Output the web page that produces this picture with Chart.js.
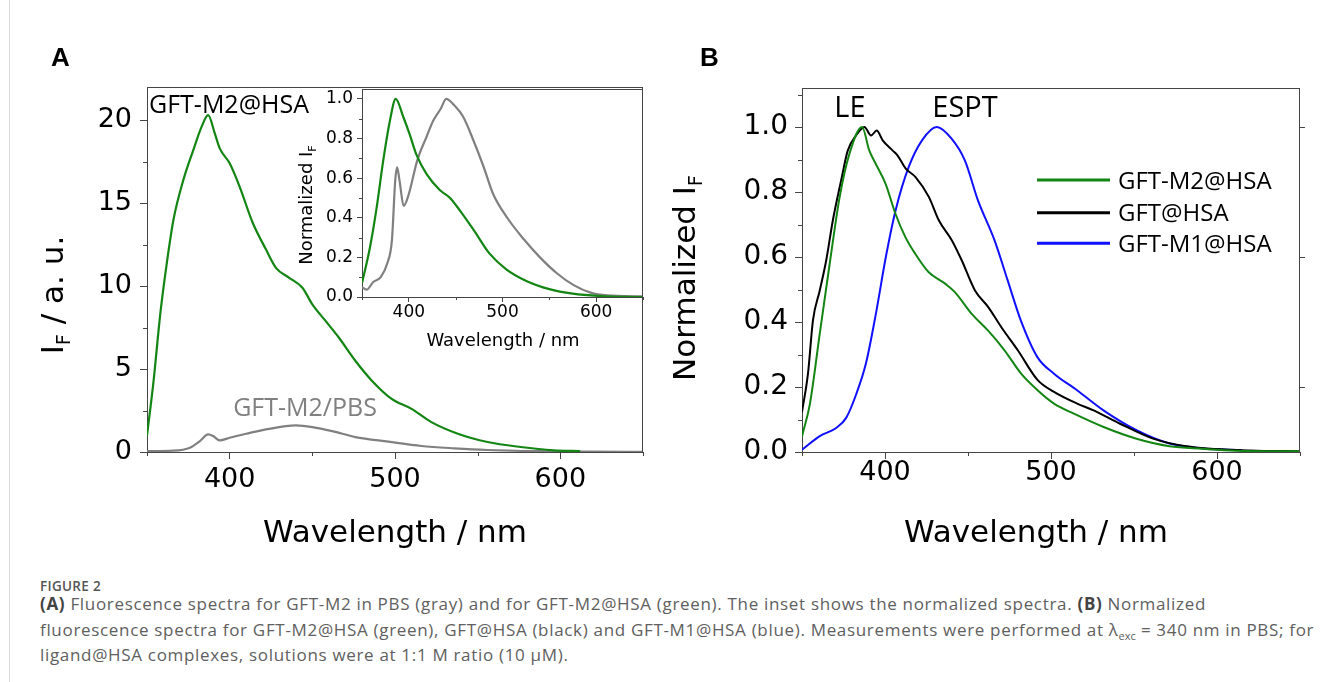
<!DOCTYPE html>
<html>
<head>
<meta charset="utf-8">
<script src="https://cdn.jsdelivr.net/npm/chart.js@4.4.0/dist/chart.umd.min.js"></script>
<style>
  body { margin: 0; background: #fff; width: 1322px; height: 682px; overflow: hidden; position: relative; }
  .edge { position: absolute; left: 9px; top: 0; width: 1px; height: 682px; background: #d9d9d9; }
  canvas { position: absolute; }
  .panel { position: absolute; top: 42px; font: bold 26px "Liberation Sans", Arial, sans-serif; line-height: 30px; color: #000; }
  .fig { position: absolute; left: 40px; top: 576px; font: 600 13.5px "Open Sans", sans-serif; color: #555; line-height: 20px; letter-spacing: 0.3px; }
  .caption { position: absolute; left: 40px; top: 591px; font: 17px "Open Sans", sans-serif; color: #606060; line-height: 25.5px; letter-spacing: 0.68px; white-space: nowrap; }
  .caption b { color: #444; }
  .caption sub { font-size: 11px; line-height: 0; letter-spacing: 0; }
</style>
</head>
<body>
<div class="edge"></div>
<canvas id="chartA" width="660" height="560" style="left:0;top:0"></canvas>
<canvas id="inset" width="380" height="320" style="left:280px;top:60px"></canvas>
<canvas id="chartB" width="662" height="560" style="left:660px;top:0"></canvas>
<div class="panel" style="left:51px">A</div>
<div class="panel" style="left:700px">B</div>
<div class="fig">FIGURE 2</div>
<div class="caption">
<b>(A)</b> Fluorescence spectra for GFT-M2 in PBS (gray) and for GFT-M2@HSA (green). The inset shows the normalized spectra. <b>(B)</b> Normalized<br>
fluorescence spectra for GFT-M2@HSA (green), GFT@HSA (black) and GFT-M1@HSA (blue). Measurements were performed at λ<sub>exc</sub> = 340 nm in PBS; for<br>
ligand@HSA complexes, solutions were at 1:1 M ratio (10 μM).
</div>
<script>
// Panel A - raw intensity
const wlA_hsa = [350, 354, 358, 362, 366, 372, 378, 383, 387, 391, 394, 400, 406, 414, 422, 428, 436, 444, 450, 458, 466, 476, 486, 498, 510, 522, 538, 556, 576, 596, 612];
const ifA_hsa = [1.0, 4.3, 8.3, 11.4, 14.0, 16.4, 18.2, 19.6, 20.3, 19.2, 18.3, 17.4, 16.0, 13.8, 12.2, 11.1, 10.5, 9.9, 8.9, 7.9, 6.9, 5.5, 4.3, 3.2, 2.6, 1.8, 1.1, 0.6, 0.3, 0.1, 0.05];
const wlA_pbs = [350, 366, 376, 382, 387, 390, 394, 400, 410, 422, 434, 440, 450, 462, 476, 496, 516, 536, 556, 586, 620, 650];
const ifA_pbs = [0.05, 0.08, 0.26, 0.66, 1.06, 0.96, 0.7, 0.86, 1.1, 1.36, 1.56, 1.6, 1.5, 1.26, 0.9, 0.62, 0.36, 0.22, 0.12, 0.05, 0.02, 0.01];

// Inset - normalized
const wlIn_hsa = [350, 358.5, 365.6, 372.7, 379.8, 386, 394, 401, 408, 419, 433, 444, 454, 469, 486, 504, 526, 550, 575, 604, 650];
const nIn_hsa = [0.07, 0.25, 0.45, 0.69, 0.89, 1.0, 0.91, 0.82, 0.72, 0.62, 0.54, 0.5, 0.44, 0.34, 0.22, 0.14, 0.08, 0.04, 0.017, 0.005, 0.0];
const wlIn_pbs = [350, 355, 362, 370, 377, 382, 385.5, 387.5, 390, 394.5, 400, 409, 419, 426, 434, 440, 448, 458, 469, 480, 490, 505, 523, 540, 558, 576, 594, 612, 650];
const nIn_pbs = [0.05, 0.037, 0.076, 0.1, 0.17, 0.29, 0.59, 0.655, 0.59, 0.46, 0.52, 0.69, 0.81, 0.89, 0.95, 1.0, 0.97, 0.91, 0.79, 0.655, 0.52, 0.4, 0.29, 0.2, 0.12, 0.06, 0.022, 0.008, 0.003];

// Panel B - normalized
const wlB_m2 = [350, 354.8, 360.7, 366.7, 372.7, 378.6, 386.2, 390.5, 394.4, 400.3, 406.3, 412.2, 418.2, 426.2, 436.2, 442.1, 452.1, 462, 472, 482, 491.9, 501.8, 513.8, 531.7, 551.5, 571.4, 591.3, 611, 650];
const nB_m2 = [0.048, 0.149, 0.364, 0.58, 0.785, 0.918, 1.0, 0.928, 0.887, 0.826, 0.733, 0.662, 0.61, 0.554, 0.518, 0.492, 0.426, 0.374, 0.313, 0.241, 0.19, 0.149, 0.118, 0.077, 0.041, 0.018, 0.01, 0.004, 0.002];
const wlB_gft = [350, 353.6, 356.6, 360.7, 364.6, 368.6, 373.6, 377.6, 382.6, 387.6, 391.6, 395, 398.6, 404.5, 407.5, 412.5, 418.4, 426.4, 432.4, 440.3, 446.2, 454.2, 462.2, 470.1, 480, 492, 501.8, 515.7, 525.7, 541.6, 561.5, 581.3, 620, 650];
const nB_gft = [0.123, 0.241, 0.405, 0.497, 0.59, 0.713, 0.836, 0.928, 0.974, 1.0, 0.974, 0.989, 0.959, 0.928, 0.913, 0.872, 0.846, 0.785, 0.713, 0.651, 0.59, 0.497, 0.446, 0.384, 0.313, 0.221, 0.185, 0.149, 0.128, 0.087, 0.041, 0.018, 0.005, 0.002];
const wlB_m1 = [350, 360.7, 370.6, 376.6, 382.6, 388.5, 394.5, 400.5, 406.4, 414.3, 422.3, 431.2, 440.1, 448.1, 456, 466, 473.9, 481.8, 491.8, 501.8, 515.7, 531.6, 551.5, 571.4, 591.3, 615];
const nB_m1 = [0.007, 0.049, 0.074, 0.105, 0.177, 0.272, 0.425, 0.6, 0.744, 0.877, 0.959, 1.0, 0.964, 0.897, 0.774, 0.651, 0.528, 0.405, 0.292, 0.241, 0.19, 0.128, 0.067, 0.026, 0.011, 0.006];

// Tick labels
const xTicks = [400, 500, 600];
const xMinor = [350, 450, 550, 650];
const yTicksA = [0, 5, 10, 15, 20];
const yMinorA = [2.5, 7.5, 12.5, 17.5];
const yTicksN = [0, 0.2, 0.4, 0.6, 0.8, 1.0];
const yMinorIn = [0.1, 0.3, 0.5, 0.7, 0.9];
const yMinorB = [0.1, 0.3, 0.5, 0.7, 0.9, 1.1];

const AXIS = '#444';
const GREEN = '#138513';
const GRAY = '#808080';

const pts = (xs, ys) => xs.map((x, i) => ({ x: x, y: ys[i] }));

function drawRich(ctx, it) {
    const fam = it.family || '"DejaVu Sans"';
    const size = it.size;
    const parts = it.parts;
    const widths = parts.map(p => {
        ctx.font = (it.weight || '') + ' ' + (p.sub ? size * 0.62 : size) + 'px ' + fam;
        return ctx.measureText(p.t).width;
    });
    const total = widths.reduce((a, b) => a + b, 0);
    ctx.save();
    ctx.translate(it.x, it.y);
    if (it.rot) ctx.rotate(it.rot);
    ctx.fillStyle = it.color || '#000';
    ctx.textBaseline = 'alphabetic';
    ctx.textAlign = 'left';
    let x = it.align === 'left' ? 0 : -total / 2;
    parts.forEach((p, i) => {
        ctx.font = (it.weight || '') + ' ' + (p.sub ? size * 0.62 : size) + 'px ' + fam;
        ctx.fillText(p.t, x, p.sub ? size * 0.22 : 0);
        x += widths[i];
    });
    ctx.restore();
}

const decorPlugin = {
    id: 'decor',
    afterDraw(chart, args, opts) {
        const ctx = chart.ctx;
        const { left, right, top, bottom } = chart.chartArea;
        const xs = chart.scales.x, ys = chart.scales.y;
        ctx.save();
        ctx.strokeStyle = AXIS;
        ctx.lineWidth = 1;
        ctx.beginPath();
        // top and right frame
        ctx.moveTo(left, Math.round(top) + 0.5);
        ctx.lineTo(right, Math.round(top) + 0.5);
        ctx.moveTo(Math.round(right) - 0.5, top);
        ctx.lineTo(Math.round(right) - 0.5, bottom);
        // minor ticks
        (opts.minorX || []).forEach(v => {
            const px = Math.round(xs.getPixelForValue(v)) + 0.5;
            ctx.moveTo(px, bottom);
            ctx.lineTo(px, bottom + opts.minorLen);
        });
        (opts.minorY || []).forEach(v => {
            const py = Math.round(ys.getPixelForValue(v)) + 0.5;
            ctx.moveTo(left, py);
            ctx.lineTo(left - opts.minorLen, py);
        });
        (opts.rightTicks || []).forEach(v => {
            const py = Math.round(ys.getPixelForValue(v)) + 0.5;
            ctx.moveTo(right, py);
            ctx.lineTo(right + 5, py);
        });
        ctx.stroke();
        // legend
        if (opts.legend) {
            const lg = opts.legend;
            chart.data.datasets.forEach((ds, i) => {
                const y = lg.ys[i];
                ctx.strokeStyle = ds.borderColor;
                ctx.lineWidth = 3;
                ctx.beginPath();
                ctx.moveTo(lg.x1, y);
                ctx.lineTo(lg.x2, y);
                ctx.stroke();
                drawRich(ctx, { parts: [{ t: ds.label }], x: lg.textX, y: y + 8.5, size: lg.size, family: '"Open Sans"', align: 'left' });
            });
        }
        ctx.restore();
        (opts.texts || []).forEach(t => drawRich(ctx, t));
    }
};

function axisOpts(o) {
    return {
        type: 'linear',
        min: o.min,
        max: o.max,
        afterBuildTicks: s => { s.ticks = o.ticks.map(v => ({ value: v })); },
        afterFit: s => {
            if (o.w !== undefined) s.width = o.w;
            if (o.h !== undefined) s.height = o.h;
        },
        ticks: {
            autoSkip: false, maxRotation: 0, color: '#000', padding: o.pad,
            font: { family: 'DejaVu Sans', size: o.size, lineHeight: 1 },
            callback: o.fmt
        },
        grid: { drawOnChartArea: false, tickLength: o.len, color: AXIS, tickWidth: 1 },
        border: { color: AXIS, width: 1 }
    };
}

function baseOpts(padding, x, y, decor) {
    return {
        responsive: false,
        animation: false,
        devicePixelRatio: 1,
        events: [],
        layout: { padding: padding },
        elements: {
            point: { radius: 0 },
            line: { fill: false, cubicInterpolationMode: 'monotone', borderJoinStyle: 'round' }
        },
        plugins: { legend: { display: false }, tooltip: { enabled: false }, decor: decor },
        scales: { x: x, y: y }
    };
}

const f1 = v => Number(v).toFixed(1);
const f0 = v => String(v);

// Panel A main
new Chart(document.getElementById('chartA'), {
    type: 'line',
    data: {
        datasets: [
            { label: 'GFT-M2@HSA', data: pts(wlA_hsa, ifA_hsa), borderColor: GREEN, borderWidth: 2.2 },
            { label: 'GFT-M2/PBS', data: pts(wlA_pbs, ifA_pbs), borderColor: GRAY, borderWidth: 2.2 }
        ]
    },
    options: baseOpts(
        { left: 0, top: 87, right: 17, bottom: 0 },
        axisOpts({ min: 350, max: 650, ticks: xTicks, h: 108, pad: 7, size: 27, len: 7, fmt: f0 }),
        axisOpts({ min: 0, max: 22, ticks: yTicksA, w: 147, pad: 8, size: 27, len: 7, fmt: f0 }),
        {
            minorX: xMinor, minorY: yMinorA, minorLen: 4,
            texts: [
                { parts: [{ t: 'GFT-M2@HSA' }], x: 229, y: 113, size: 25, family: '"Open Sans"' },
                { parts: [{ t: 'GFT-M2/PBS' }], x: 305, y: 416, size: 25, family: '"Open Sans"', color: GRAY },
                { parts: [{ t: 'Wavelength / nm' }], x: 395, y: 542, size: 31 },
                { parts: [{ t: 'I' }, { t: 'F', sub: true }, { t: ' / a. u.' }], x: 63, y: 295, size: 31, rot: -Math.PI / 2 }
            ]
        }
    ),
    plugins: [decorPlugin]
});

// Inset
new Chart(document.getElementById('inset'), {
    type: 'line',
    data: {
        datasets: [
            { label: 'GFT-M2@HSA', data: pts(wlIn_hsa, nIn_hsa), borderColor: GREEN, borderWidth: 2.2 },
            { label: 'GFT-M2/PBS', data: pts(wlIn_pbs, nIn_pbs), borderColor: GRAY, borderWidth: 2.2 }
        ]
    },
    options: baseOpts(
        { left: 0, top: 29, right: 17, bottom: 0 },
        axisOpts({ min: 350, max: 650, ticks: xTicks, h: 83, pad: 2, size: 17, len: 5, fmt: f0 }),
        axisOpts({ min: 0, max: 1.05, ticks: yTicksN, w: 82, pad: 4, size: 17, len: 5, fmt: f1 }),
        {
            minorX: xMinor, minorY: yMinorIn, minorLen: 3,
            texts: [
                { parts: [{ t: 'Wavelength / nm' }], x: 223, y: 286, size: 18 },
                { parts: [{ t: 'Normalized I' }, { t: 'F', sub: true }], x: 32, y: 145, size: 18, rot: -Math.PI / 2 }
            ]
        }
    ),
    plugins: [decorPlugin]
});

// Panel B
new Chart(document.getElementById('chartB'), {
    type: 'line',
    data: {
        datasets: [
            { label: 'GFT-M2@HSA', data: pts(wlB_m2, nB_m2), borderColor: GREEN, borderWidth: 2 },
            { label: 'GFT@HSA', data: pts(wlB_gft, nB_gft), borderColor: '#000000', borderWidth: 2 },
            { label: 'GFT-M1@HSA', data: pts(wlB_m1, nB_m1), borderColor: '#1010ff', borderWidth: 2 }
        ]
    },
    options: baseOpts(
        { left: 0, top: 88, right: 22, bottom: 0 },
        axisOpts({ min: 350, max: 650, ticks: xTicks, h: 108, pad: 0, size: 27, len: 7, fmt: f0 }),
        axisOpts({ min: 0, max: 1.12, ticks: yTicksN, w: 142, pad: 7, size: 28, len: 7, fmt: f1 }),
        {
            minorX: xMinor, minorY: yMinorB, minorLen: 4, rightTicks: [0.2, 0.6, 1.0],
            legend: { x1: 377, x2: 450, textX: 458, ys: [180, 212.7, 243.3], size: 24 },
            texts: [
                { parts: [{ t: 'LE' }], x: 190, y: 117, size: 29, family: '"Open Sans"' },
                { parts: [{ t: 'ESPT' }], x: 305, y: 117, size: 29, family: '"Open Sans"' },
                { parts: [{ t: 'Wavelength / nm' }], x: 376, y: 542, size: 31 },
                { parts: [{ t: 'Normalized I' }, { t: 'F', sub: true }], x: 35, y: 278, size: 31, rot: -Math.PI / 2 }
            ]
        }
    ),
    plugins: [decorPlugin]
});
</script>
</body>
</html>
